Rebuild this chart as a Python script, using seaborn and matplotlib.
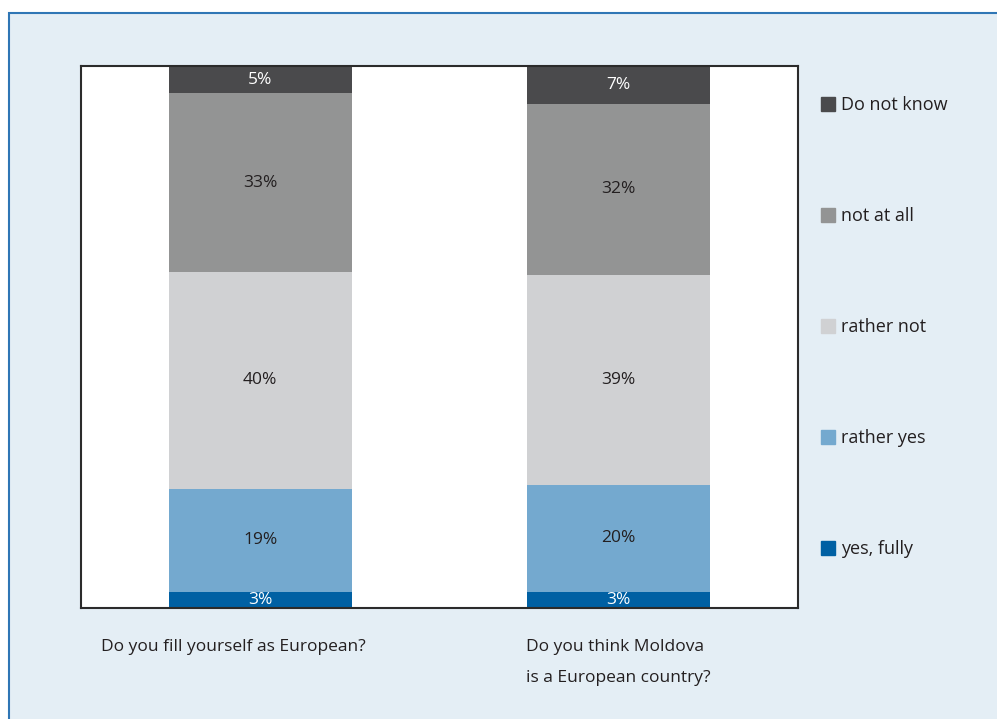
import numpy as np
import pandas as pd
import matplotlib.pyplot as plt
import matplotlib.patches as mpatches
from matplotlib.lines import Line2D
import seaborn as sns

# Survey answers, in percent (as printed on the bars)
questions = ['Do you fill yourself as European?',
             'Do you think Moldova\nis a European country?']
answers = ['yes, fully', 'rather yes', 'rather not', 'not at all', 'Do not know']
yes_fully = [3, 3]
rather_yes = [19, 20]
rather_not = [40, 39]
not_at_all = [33, 32]
do_not_know = [5, 7]

colors = ['#0060a3', '#74a9cf', '#d0d1d3', '#939494', '#4a4a4c']
text_colors = ['white', '#231f20', '#231f20', '#231f20', 'white']

sns.set_style("white")
plt.rcParams['font.family'] = ['Open Sans', 'DejaVu Sans']

df = pd.DataFrame([yes_fully, rather_yes, rather_not, not_at_all, do_not_know],
                  index=answers, columns=[0, 1])
# shares scaled to 100% for each bar
shares = df / df.sum() * 100

fig = plt.figure(figsize=(9.97, 7.19), dpi=100)
fig.patch.set_facecolor('white')
fig.patches.append(mpatches.Rectangle((9 / 997, -0.1), 1.2, 1.1 - 13 / 719,
                                      transform=fig.transFigure, facecolor='#e4eef5',
                                      edgecolor='#2f76b5', linewidth=1.5, zorder=-1))

ax = fig.add_axes([81 / 997, 1 - 608 / 719, 717 / 997, 542 / 719])
ax.set_facecolor('white')

bottom = np.zeros(2)
for i, ans in enumerate(answers):
    vals = shares.loc[ans].values
    ax.bar([0, 1], vals, bottom=bottom, width=0.51, color=colors[i], linewidth=0, zorder=2)
    for x in range(2):
        ax.text(x, bottom[x] + vals[x] / 2, f"{df.loc[ans, x]}%", ha='center', va='center',
                fontsize=12.5, color=text_colors[i], zorder=3)
    bottom += vals

ax.set_xlim(-0.5, 1.5)
ax.set_ylim(0, 100)
ax.set_xticks([])
ax.set_yticks([])
for s in ax.spines.values():
    s.set_color('#2b2b2b')
    s.set_linewidth(1.5)

# category labels under the plot, left aligned
lab_x = [-0.444, 0.74]
trans = ax.get_xaxis_transform()
for x, q in zip(lab_x, questions):
    ax.text(x, -0.057, q, transform=trans, ha='left', va='top', fontsize=12.5,
            color='#231f20', linespacing=2.3)

handles = [Line2D([], [], marker='s', linestyle='none', markersize=10,
                  markerfacecolor=colors[i], markeredgecolor=colors[i])
           for i in range(len(answers))][::-1]
leg = ax.legend(handles, answers[::-1], loc='upper left', bbox_to_anchor=(1.004, 0.974),
                frameon=False, fontsize=13, labelspacing=5.15, handletextpad=0.15,
                handlelength=1.2, labelcolor='#231f20')

fig.savefig('out.png', dpi=100)
